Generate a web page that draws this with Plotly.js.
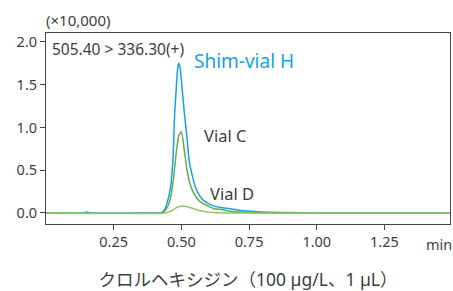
<!DOCTYPE html>
<html>
<head>
<meta charset="utf-8">
<script src="https://cdn.plot.ly/plotly-3.0.1.min.js"></script>
<style>html,body{margin:0;padding:0;background:#fff;}#chart{width:453px;height:291px;}</style>
</head>
<body>
<div id="chart"></div>
<script>
// Retention time (min) and intensity (×10,000) for each series
const timeH = [0, 0.14, 0.15, 0.16, 0.40, 0.42, 0.43, 0.44, 0.45, 0.46, 0.465, 0.47, 0.475, 0.48, 0.485, 0.49, 0.495, 0.50, 0.51, 0.52, 0.53, 0.54, 0.55, 0.56, 0.58, 0.60, 0.62, 0.65, 0.68, 0.72, 0.76, 0.80, 0.90, 1.0, 1.2, 1.49];
const shimVialH = [0, 0, 0.01, 0, 0, 0, 0.01, 0.05, 0.15, 0.3, 0.45, 0.7, 1.15, 1.4, 1.65, 1.75, 1.7, 1.55, 1.2, 0.9, 0.58, 0.44, 0.32, 0.24, 0.15, 0.11, 0.08, 0.06, 0.05, 0.03, 0.02, 0.01, 0.005, 0, 0, 0];

const timeC = [0, 0.42, 0.43, 0.44, 0.45, 0.46, 0.47, 0.48, 0.49, 0.50, 0.51, 0.52, 0.53, 0.54, 0.55, 0.56, 0.58, 0.60, 0.62, 0.65, 0.68, 0.72, 0.8, 1.49];
const vialC = [0, 0, 0.005, 0.03, 0.08, 0.18, 0.38, 0.68, 0.9, 0.95, 0.75, 0.52, 0.36, 0.27, 0.21, 0.16, 0.11, 0.08, 0.05, 0.04, 0.02, 0.01, 0, 0];

const timeD = [0, 0.44, 0.46, 0.48, 0.50, 0.52, 0.54, 0.56, 0.58, 0.60, 0.63, 0.7, 1.49];
const vialD = [0, 0, 0.02, 0.06, 0.08, 0.075, 0.055, 0.035, 0.02, 0.01, 0.003, 0, 0];

const xTicks = [0.25, 0.50, 0.75, 1.00, 1.25];
const xTickText = ["0.25", "0.50", "0.75", "1.00", "1.25"];
const yTicks = [0.0, 0.5, 1.0, 1.5, 2.0];
const yTickText = ["0.0", "0.5", "1.0", "1.5", "2.0"];

const FONT = '"Noto Sans", "Noto Sans CJK JP", sans-serif';
const TXT = '#3d3d3d';

const traces = [
  {x: timeH, y: shimVialH, name: 'Shim-vial H', mode: 'lines', line: {color: '#16a2e0', width: 1.5, shape: 'spline', smoothing: 0.6}},
  {x: timeC, y: vialC, name: 'Vial C', mode: 'lines', line: {color: '#6aa84f', width: 1.5, shape: 'spline', smoothing: 0.6}},
  {x: timeD, y: vialD, name: 'Vial D', mode: 'lines', line: {color: '#8fc46c', width: 1.5, shape: 'spline', smoothing: 0.6}}
];

const layout = {
  width: 453, height: 291,
  margin: {l: 46, r: 3, t: 33, b: 67},
  paper_bgcolor: '#fff', plot_bgcolor: '#fff',
  showlegend: false,
  font: {family: FONT, size: 14.5, color: TXT},
  xaxis: {
    range: [0, 1.492], showgrid: false, zeroline: false,
    showline: true, mirror: true, linecolor: '#444', linewidth: 1,
    ticks: 'outside', ticklen: 5, tickcolor: '#444', tickwidth: 1,
    tickvals: xTicks, ticktext: xTickText,
    tickfont: {family: FONT, size: 14.5, color: TXT},
    title: {text: 'クロルヘキシジン（100 µg/L、1 µL）', font: {family: FONT, size: 17.5, color: TXT}, standoff: 28}
  },
  yaxis: {
    range: [-0.129, 2.105], showgrid: false, zeroline: false,
    showline: true, mirror: true, linecolor: '#444', linewidth: 1,
    ticks: 'outside', ticklen: 5, tickcolor: '#444', tickwidth: 1,
    tickvals: yTicks, ticktext: yTickText,
    tickfont: {family: FONT, size: 14.5, color: TXT}
  },
  annotations: [
    {xref: 'paper', yref: 'paper', x: 0, y: 1, xanchor: 'left', yanchor: 'bottom', yshift: 1, xshift: -2,
     text: '(×10,000)', showarrow: false, font: {family: FONT, size: 15, color: TXT}},
    {xref: 'paper', yref: 'paper', x: 0, y: 1, xanchor: 'left', yanchor: 'top', xshift: 4, yshift: -3,
     text: '505.40 > 336.30(+)', showarrow: false, font: {family: FONT, size: 15.5, color: TXT}},
    {xref: 'x', yref: 'y', x: 0.54, y: 1.78, xanchor: 'left', yanchor: 'middle',
     text: 'Shim-vial H', showarrow: false, font: {family: FONT, size: 19, color: '#16a2e0'}},
    {xref: 'x', yref: 'y', x: 0.575, y: 0.91, xanchor: 'left', yanchor: 'middle',
     text: 'Vial C', showarrow: false, font: {family: FONT, size: 16.5, color: TXT}},
    {xref: 'x', yref: 'y', x: 0.6, y: 0.23, xanchor: 'left', yanchor: 'middle',
     text: 'Vial D', showarrow: false, font: {family: FONT, size: 16.5, color: TXT}},
    {xref: 'paper', yref: 'paper', x: 1, y: 0, xanchor: 'right', yanchor: 'top', xshift: 4, yshift: -8,
     text: 'min', showarrow: false, font: {family: FONT, size: 14.5, color: TXT}}
  ]
};

Plotly.newPlot('chart', traces, layout, {staticPlot: true, displayModeBar: false});
</script>
</body>
</html>
